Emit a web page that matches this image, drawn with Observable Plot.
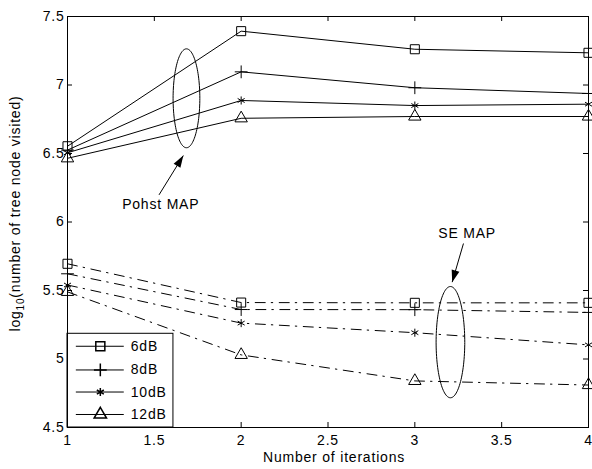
<!DOCTYPE html>
<html>
<head>
<meta charset="utf-8">
<script src="https://cdn.jsdelivr.net/npm/d3@7"></script>
<script src="https://cdn.jsdelivr.net/npm/@observablehq/plot@0.6"></script>
<style>
  html, body { margin: 0; padding: 0; background: #fff; }
  #chart { width: 592px; height: 469px; }
</style>
</head>
<body>
<div id="chart"></div>
<script>
// ---- data ----
const iterations = [1, 2, 3, 4];
const snrLabels = ["6dB", "8dB", "10dB", "12dB"];
const snrSymbols = ["square", "plus", "asterisk", "triangle"];
const snrSymbolR = [5.1, 4.2, 3.8, 4.6];

const pohst6dB  = [6.553, 7.393, 7.261, 7.235];
const pohst8dB  = [6.525, 7.096, 6.980, 6.938];
const pohst10dB = [6.505, 6.887, 6.850, 6.860];
const pohst12dB = [6.465, 6.757, 6.770, 6.770];

const se6dB  = [5.695, 5.412, 5.410, 5.410];
const se8dB  = [5.622, 5.361, 5.360, 5.340];
const se10dB = [5.540, 5.262, 5.192, 5.103];
const se12dB = [5.490, 5.030, 4.840, 4.810];

const xTicks = [1, 1.5, 2, 2.5, 3, 3.5, 4];
const yTicks = [4.5, 5, 5.5, 6, 6.5, 7, 7.5];

const xLabel = "Number of iterations";
const yLabelMain = "log";
const yLabelSub = "10";
const yLabelRest = "(number of tree node visited)";

// annotations (data coordinates)
const annotations = [
  {text: "Pohst MAP", x: 1.537, y: 6.124, ex: 1.685, ey: 6.903, rx: 0.077, ry: 0.361,
   ax1: 1.527, ay1: 6.198, ax2: 1.667, ay2: 6.485},
  {text: "SE MAP", x: 3.301, y: 5.916, ex: 3.205, ey: 5.123, rx: 0.0825, ry: 0.406,
   ax1: 3.280, ay1: 5.843, ax2: 3.215, ay2: 5.561}
];

// legend layout (data coordinates of the box inside the axes)
const legendBox = {x1: 1, x2: 1.610, y1: 4.5, y2: 5.184};
const legendRowY = [5.093, 4.920, 4.759, 4.595];
const legendLineX = [1.048, 1.324];
const legendMarkX = 1.189;
const legendTextX = 1.364;

// ---- build tidy rows ----
const pohstSeries = [pohst6dB, pohst8dB, pohst10dB, pohst12dB];
const seSeries = [se6dB, se8dB, se10dB, se12dB];
const rows = [];
snrLabels.forEach((snr, i) => {
  iterations.forEach((it, j) => {
    rows.push({method: "Pohst", snr, si: i, x: it, y: pohstSeries[i][j]});
    rows.push({method: "SE", snr, si: i, x: it, y: seSeries[i][j]});
  });
});

const ellipsePts = [];
annotations.forEach((a, k) => {
  for (const t of d3.range(0, 2 * Math.PI, Math.PI / 60)) {
    ellipsePts.push({k, x: a.ex + a.rx * Math.cos(t), y: a.ey + a.ry * Math.sin(t)});
  }
});

const legendRows = snrLabels.map((snr, i) => ({snr, i, y: legendRowY[i]}));

const W = 592, H = 469, mL = 67, mR = 4, mT = 16, mB = 42;
const plotW = W - mL - mR, plotH = H - mT - mB;
const tick = 5;

const marks = [
  // inward ticks on all four sides
  Plot.tickX(xTicks, {x: d => d, stroke: "black", insetTop: plotH - tick}),
  Plot.tickX(xTicks, {x: d => d, stroke: "black", insetBottom: plotH - tick}),
  Plot.tickY(yTicks, {y: d => d, stroke: "black", insetRight: plotW - tick}),
  Plot.tickY(yTicks, {y: d => d, stroke: "black", insetLeft: plotW - tick}),
  Plot.axisX({ticks: xTicks, tickSize: 0, tickPadding: 8, label: null, tickFormat: d => String(d), fontSize: 14}),
  Plot.axisY({ticks: yTicks, tickSize: 0, tickPadding: 3, label: null, tickFormat: d => String(d), fontSize: 14}),
  // series lines
  Plot.line(rows.filter(d => d.method === "Pohst"), {x: "x", y: "y", z: "snr", stroke: "black", strokeWidth: 1}),
  Plot.line(rows.filter(d => d.method === "SE"), {x: "x", y: "y", z: "snr", stroke: "black", strokeWidth: 1, strokeDasharray: "10,6,1.5,6.5"}),
];
// markers
snrLabels.forEach((snr, i) => {
  marks.push(Plot.dot(rows.filter(d => d.si === i), {
    x: "x", y: "y", symbol: () => snrSymbols[i], r: snrSymbolR[i],
    stroke: "black", fill: "none", strokeWidth: 1
  }));
});
// annotations
marks.push(
  Plot.line(ellipsePts, {x: "x", y: "y", z: "k", curve: "linear-closed", stroke: "black", strokeWidth: 1}),
  Plot.link(annotations, {x1: "ax1", y1: "ay1", x2: "ax2", y2: "ay2", stroke: "black", strokeWidth: 1}),
  Plot.text(annotations, {x: "x", y: "y", text: "text", fontSize: 14, fill: "black"})
);
// legend
marks.push(
  Plot.rect([legendBox], {x1: "x1", x2: "x2", y1: "y1", y2: "y2", fill: "white", stroke: "black", strokeWidth: 1}),
  Plot.link(legendRows, {x1: () => legendLineX[0], x2: () => legendLineX[1], y1: "y", y2: "y", stroke: "black", strokeWidth: 1})
);
legendRows.forEach((r, i) => {
  marks.push(Plot.dot([r], {x: () => legendMarkX, y: "y", symbol: () => snrSymbols[i], r: snrSymbolR[i], stroke: "black", fill: "none"}));
});
marks.push(
  Plot.text(legendRows, {x: () => legendTextX, y: "y", text: "snr", textAnchor: "start", fontSize: 14, fill: "black"}),
  Plot.frame({stroke: "black", strokeWidth: 1})
);

const plot = Plot.plot({
  width: W, height: H,
  marginLeft: mL, marginRight: mR, marginTop: mT, marginBottom: mB,
  x: {domain: [1, 4]},
  y: {domain: [4.5, 7.5]},
  style: {fontFamily: "'Liberation Sans', Arial, Helvetica, sans-serif", fontSize: "14px", letterSpacing: "0.8px", background: "white", color: "black", overflow: "visible"},
  marks
});

// arrowheads & axis titles
const svg = d3.select(plot);
const defs = svg.insert("defs", ":first-child");
defs.append("marker")
  .attr("id", "ahead").attr("viewBox", "-13 -5 14 10")
  .attr("refX", 0).attr("refY", 0)
  .attr("markerWidth", 14).attr("markerHeight", 10)
  .attr("markerUnits", "userSpaceOnUse").attr("orient", "auto")
  .append("path").attr("d", "M0,0L-12,-4L-12,4Z").attr("fill", "black");
const linkGroups = svg.selectAll('g[aria-label="link"]').nodes();
if (linkGroups.length) d3.select(linkGroups[0]).selectAll("path").attr("marker-end", "url(#ahead)");

svg.append("text")
  .attr("x", 334).attr("y", 461.5)
  .attr("text-anchor", "middle")
  .attr("font-size", 14).attr("fill", "black")
  .text(xLabel);

const yl = svg.append("text")
  .attr("transform", "translate(20,213.5) rotate(-90)")
  .attr("text-anchor", "middle")
  .attr("font-size", 14).attr("fill", "black");
yl.append("tspan").text(yLabelMain);
yl.append("tspan").attr("font-size", 10).attr("dy", 4).text(yLabelSub);
yl.append("tspan").attr("dy", -4).text(yLabelRest);

document.getElementById("chart").appendChild(plot);
</script>
</body>
</html>
